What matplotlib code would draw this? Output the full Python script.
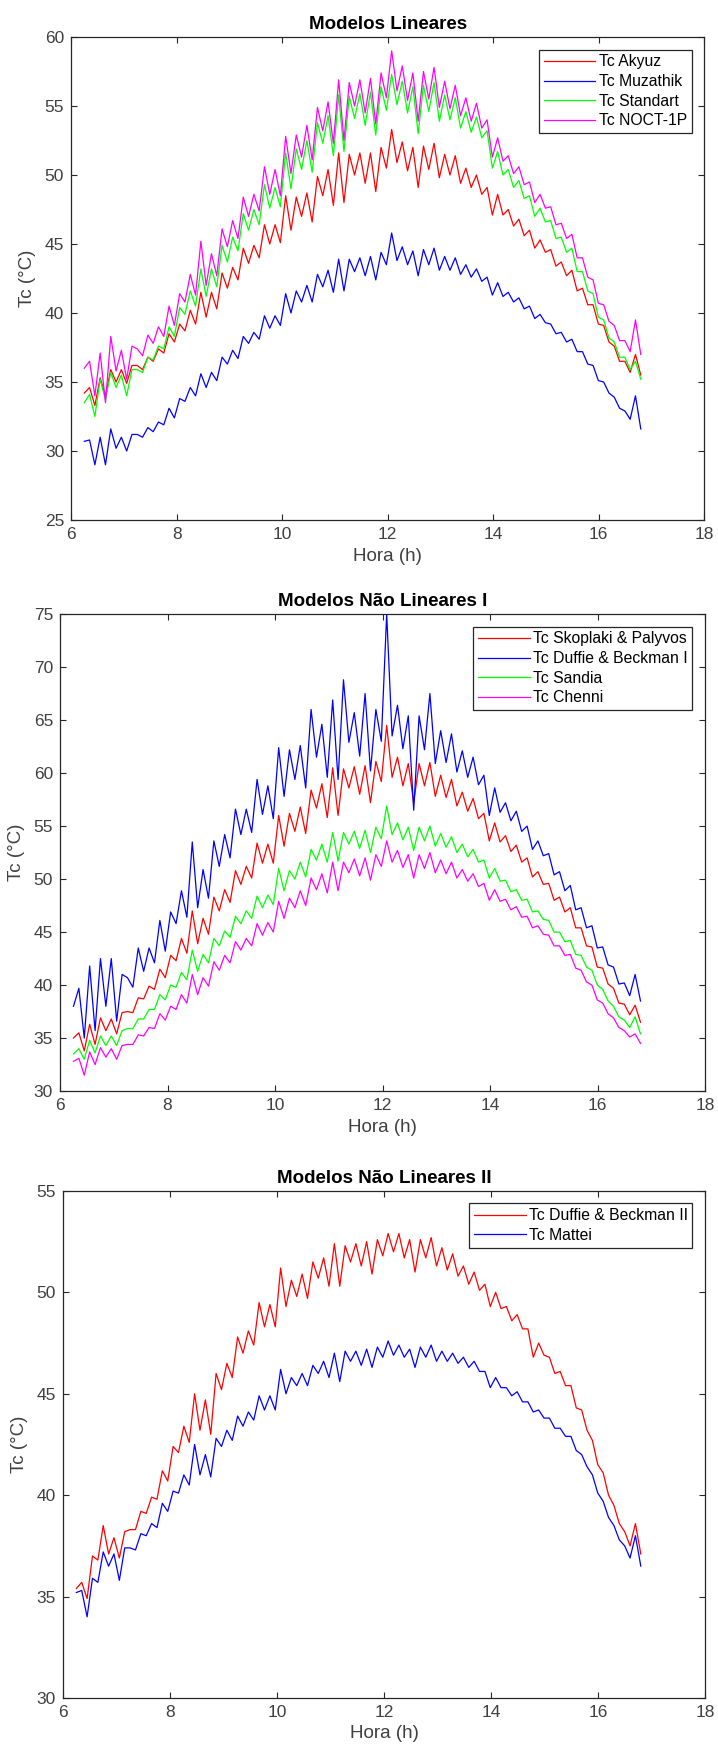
import numpy as np
import matplotlib
matplotlib.use("Agg")
import matplotlib.pyplot as plt

plt.rcParams['font.family'] = ['Liberation Sans', 'DejaVu Sans']

# sampling grid (hours)
hora = np.linspace(6.25, 16.8, 106)

# --- Modelos Lineares ---
akyuz = [34.2, 34.6, 33.3, 35.3, 34.0, 35.9, 35.0, 35.9, 34.9, 36.2,
         36.2, 35.9, 36.8, 36.5, 37.4, 37.1, 38.5, 37.9, 39.2, 38.7,
         40.2, 39.2, 41.5, 39.7, 41.5, 40.3, 42.9, 41.8, 43.3, 42.4,
         44.7, 43.6, 44.9, 44.0, 46.4, 45.0, 46.4, 45.1, 48.5, 46.0,
         48.4, 47.0, 48.7, 46.6, 49.9, 48.5, 50.4, 47.8, 51.6, 48.0,
         51.5, 50.0, 51.6, 49.4, 51.6, 48.8, 52.0, 50.5, 53.3, 50.9,
         52.4, 50.3, 52.0, 49.1, 52.1, 50.4, 52.3, 49.8, 51.5, 50.0,
         51.4, 49.4, 50.5, 49.1, 50.0, 48.6, 49.1, 47.1, 48.6, 47.1,
         47.5, 46.3, 46.8, 45.6, 46.0, 44.7, 45.3, 44.4, 44.6, 43.4,
         43.7, 42.7, 43.1, 41.6, 41.8, 40.6, 40.6, 39.2, 39.1, 37.9,
         37.6, 36.5, 36.5, 35.7, 37.0, 35.5]
muzathik = [30.7, 30.8, 29.0, 31.0, 29.0, 31.6, 30.2, 31.0, 30.0, 31.2,
            31.2, 31.0, 31.7, 31.4, 32.1, 31.9, 33.1, 32.4, 33.8, 33.6,
            34.6, 34.0, 35.6, 34.6, 35.7, 35.1, 36.8, 36.3, 37.3, 36.7,
            38.3, 37.8, 38.6, 38.1, 39.8, 38.9, 39.8, 39.1, 41.4, 40.0,
            41.6, 40.8, 42.0, 40.8, 42.8, 41.9, 43.1, 41.5, 43.9, 41.6,
            43.9, 43.0, 44.0, 42.7, 44.1, 42.4, 44.4, 43.5, 45.8, 43.8,
            44.8, 43.5, 44.5, 42.7, 44.6, 43.5, 44.7, 43.1, 44.1, 43.1,
            44.0, 42.8, 43.5, 42.6, 43.2, 42.3, 42.6, 41.3, 42.2, 41.2,
            41.5, 40.8, 41.1, 40.3, 40.5, 39.6, 39.9, 39.3, 39.2, 38.5,
            38.6, 37.9, 38.1, 37.2, 37.2, 36.3, 36.2, 35.1, 35.0, 34.2,
            33.9, 33.1, 32.9, 32.3, 34.0, 31.6]
standart = [33.5, 34.1, 32.5, 35.2, 33.7, 35.7, 34.6, 35.5, 34.0, 35.9,
            35.9, 35.7, 36.8, 36.6, 37.6, 37.4, 39.0, 38.3, 40.4, 39.9,
            41.6, 40.5, 43.2, 41.2, 43.2, 41.9, 44.9, 43.7, 45.5, 44.5,
            47.2, 46.0, 47.5, 46.4, 49.3, 47.6, 49.1, 47.7, 51.6, 49.0,
            51.9, 50.4, 52.5, 50.2, 53.8, 52.3, 54.3, 51.4, 55.8, 51.7,
            55.7, 54.1, 55.9, 53.6, 56.0, 52.9, 56.4, 54.7, 57.3, 55.1,
            56.8, 54.5, 56.4, 53.0, 56.5, 54.6, 56.7, 53.9, 55.8, 54.0,
            55.6, 53.4, 54.6, 53.1, 54.2, 52.7, 53.2, 50.5, 51.7, 50.0,
            50.4, 49.1, 49.6, 48.3, 48.5, 47.0, 47.6, 46.6, 46.7, 45.4,
            45.5, 44.4, 44.7, 43.0, 43.0, 41.6, 41.4, 39.7, 39.5, 38.2,
            37.9, 36.8, 36.8, 35.9, 36.5, 35.2]
noct_1p = [36.0, 36.5, 34.0, 37.1, 33.5, 38.3, 35.8, 37.3, 35.2, 37.6,
           37.4, 36.9, 38.4, 37.8, 39.0, 38.3, 40.5, 39.1, 41.4, 40.8,
           42.8, 41.3, 45.2, 42.0, 44.3, 42.7, 46.1, 44.8, 46.7, 45.4,
           48.4, 47.0, 48.6, 47.4, 50.6, 48.6, 50.4, 48.5, 52.8, 50.1,
           52.9, 51.3, 53.6, 51.1, 54.9, 53.2, 55.3, 52.3, 56.9, 52.5,
           56.7, 55.0, 56.9, 54.5, 57.0, 53.7, 57.4, 55.6, 59.0, 56.1,
           57.9, 55.4, 57.4, 53.9, 57.5, 55.5, 57.8, 54.9, 56.8, 54.8,
           56.5, 54.3, 55.6, 53.9, 55.2, 53.4, 54.0, 51.3, 52.7, 51.0,
           51.4, 50.1, 50.6, 49.3, 49.5, 48.0, 48.6, 47.6, 47.7, 46.4,
           46.5, 45.4, 45.7, 44.0, 44.0, 42.6, 42.4, 40.7, 40.6, 39.4,
           39.1, 38.0, 38.0, 37.2, 39.5, 37.0]

# --- Modelos Nao Lineares I ---
skoplaki = [35.0, 35.5, 33.8, 36.3, 34.4, 36.9, 35.7, 36.8, 35.4, 37.4,
            37.5, 37.4, 38.8, 38.7, 39.9, 39.6, 41.5, 40.7, 42.8, 42.3,
            44.4, 43.0, 47.0, 43.9, 46.3, 44.8, 48.3, 47.0, 49.0, 47.8,
            50.8, 49.5, 51.2, 50.1, 53.4, 51.5, 53.3, 51.5, 56.0, 53.1,
            56.2, 54.5, 56.8, 54.3, 58.4, 56.7, 59.0, 55.8, 60.5, 56.0,
            60.4, 58.6, 60.6, 58.0, 60.7, 57.2, 61.1, 59.2, 64.5, 59.6,
            61.5, 58.8, 60.9, 57.2, 60.9, 58.8, 61.0, 57.8, 59.8, 57.7,
            59.4, 56.9, 58.2, 56.4, 57.6, 55.7, 56.2, 53.6, 55.3, 53.5,
            54.1, 52.6, 53.2, 51.6, 52.0, 50.2, 50.7, 49.5, 49.6, 48.0,
            48.3, 46.9, 47.3, 45.4, 45.4, 43.7, 43.6, 41.7, 41.6, 40.1,
            39.7, 38.3, 38.2, 37.2, 38.1, 36.5]
duffie_1 = [38.0, 39.7, 35.0, 41.8, 35.7, 42.5, 38.0, 42.5, 36.6, 41.0,
            40.7, 39.8, 43.5, 41.3, 43.5, 42.1, 46.1, 43.2, 46.9, 45.8,
            48.9, 46.4, 53.5, 47.3, 50.9, 48.2, 53.6, 51.2, 54.2, 52.0,
            56.6, 54.2, 56.6, 54.4, 59.4, 56.1, 58.8, 55.7, 62.4, 57.8,
            62.2, 59.4, 62.6, 58.6, 66.0, 61.5, 64.6, 59.6, 66.9, 59.4,
            68.8, 62.9, 65.7, 61.6, 67.5, 60.2, 66.0, 63.0, 75.0, 63.5,
            66.4, 62.3, 65.4, 56.5, 65.4, 62.2, 67.5, 60.9, 64.0, 61.0,
            63.7, 60.1, 62.1, 59.6, 61.5, 58.9, 59.8, 56.0, 58.6, 56.3,
            57.2, 55.5, 56.4, 54.5, 55.0, 52.8, 53.6, 52.2, 52.4, 50.4,
            50.7, 48.9, 49.4, 47.1, 47.3, 45.4, 45.6, 43.5, 43.6, 41.9,
            41.7, 40.1, 40.2, 39.0, 41.0, 38.5]
sandia = [33.5, 34.0, 33.0, 34.8, 33.6, 35.2, 34.3, 35.2, 34.3, 35.7,
          35.9, 35.9, 36.8, 36.8, 37.7, 37.7, 39.1, 38.6, 40.0, 39.8,
          41.2, 40.5, 43.3, 41.3, 42.9, 42.1, 44.4, 43.7, 45.1, 44.5,
          46.5, 45.8, 47.0, 46.3, 48.4, 47.3, 48.5, 47.6, 51.0, 48.9,
          50.8, 50.0, 51.6, 50.2, 52.8, 51.8, 53.3, 51.6, 54.4, 51.7,
          54.4, 53.3, 54.5, 52.9, 54.6, 52.5, 54.9, 53.8, 56.9, 54.2,
          55.3, 53.7, 54.9, 52.7, 54.9, 53.6, 55.0, 53.1, 54.3, 53.0,
          54.0, 52.5, 53.3, 52.1, 52.8, 51.6, 51.8, 50.1, 51.0, 49.8,
          49.9, 48.8, 49.0, 48.0, 48.1, 46.9, 47.0, 46.2, 46.1, 45.0,
          45.0, 44.1, 44.2, 42.9, 42.8, 41.7, 41.4, 40.0, 39.6, 38.5,
          38.0, 37.0, 36.7, 36.0, 37.0, 35.4]
chenni = [32.8, 33.1, 31.5, 33.7, 32.5, 34.1, 33.2, 34.0, 33.0, 34.3,
          34.4, 34.4, 35.3, 35.2, 36.0, 35.9, 37.3, 36.7, 38.0, 37.7,
          39.1, 38.3, 41.0, 39.1, 40.7, 39.9, 42.2, 41.4, 42.8, 42.1,
          44.1, 43.3, 44.4, 43.7, 45.8, 44.7, 45.9, 45.0, 47.9, 46.3,
          48.2, 47.3, 48.9, 47.5, 50.1, 49.0, 50.5, 48.7, 51.6, 48.9,
          51.6, 50.6, 51.9, 50.3, 52.0, 49.9, 52.3, 51.2, 53.6, 51.6,
          52.7, 51.1, 52.3, 50.1, 52.3, 51.0, 52.5, 50.6, 51.8, 50.5,
          51.6, 50.1, 50.9, 49.8, 50.5, 49.3, 49.6, 48.0, 49.0, 47.9,
          48.1, 47.1, 47.4, 46.4, 46.5, 45.4, 45.6, 44.8, 44.7, 43.7,
          43.7, 42.8, 42.9, 41.6, 41.4, 40.3, 40.0, 38.6, 38.3, 37.3,
          36.9, 36.0, 35.7, 35.1, 35.4, 34.5]

# --- Modelos Nao Lineares II ---
duffie_2 = [35.4, 35.7, 34.9, 37.0, 36.8, 38.5, 37.1, 37.9, 36.9, 38.2,
            38.3, 38.3, 39.2, 39.1, 39.9, 39.8, 41.2, 40.7, 42.4, 42.1,
            43.4, 42.6, 45.0, 43.2, 44.7, 43.0, 46.0, 45.2, 46.5, 45.8,
            47.8, 47.0, 48.1, 47.4, 49.5, 48.3, 49.4, 48.3, 51.2, 49.3,
            50.6, 49.8, 50.9, 49.7, 51.5, 50.7, 51.7, 50.3, 52.4, 50.3,
            52.3, 51.5, 52.4, 51.3, 52.5, 50.9, 52.6, 51.8, 52.9, 52.0,
            52.9, 51.7, 52.6, 51.0, 52.6, 51.7, 52.7, 51.3, 52.2, 51.1,
            51.9, 50.8, 51.3, 50.4, 51.0, 50.1, 50.4, 49.3, 50.0, 49.2,
            49.3, 48.6, 48.9, 48.2, 48.2, 46.8, 47.5, 46.9, 46.8, 46.0,
            46.1, 45.4, 45.4, 44.3, 44.2, 43.2, 42.7, 41.5, 41.1, 40.0,
            39.5, 38.6, 38.2, 37.5, 38.6, 37.1]
mattei = [35.2, 35.3, 34.0, 35.9, 35.7, 37.2, 36.5, 37.1, 35.8, 37.4,
          37.4, 37.3, 38.1, 38.0, 38.6, 38.4, 39.6, 39.2, 40.2, 40.1,
          41.0, 40.5, 42.5, 41.0, 42.0, 40.9, 42.8, 42.4, 43.2, 42.7,
          43.9, 43.4, 44.1, 43.7, 44.9, 44.2, 44.9, 44.2, 46.2, 45.0,
          45.8, 45.4, 46.0, 45.4, 46.4, 46.0, 46.6, 45.8, 47.0, 45.6,
          47.1, 46.6, 47.1, 46.4, 47.2, 46.3, 47.3, 46.8, 47.6, 46.9,
          47.4, 46.8, 47.2, 46.3, 47.3, 46.8, 47.4, 46.6, 47.1, 46.6,
          47.0, 46.5, 46.8, 46.3, 46.6, 46.1, 46.1, 45.3, 45.8, 45.3,
          45.3, 44.9, 45.1, 44.6, 44.6, 44.1, 44.2, 43.8, 43.8, 43.3,
          43.3, 42.9, 42.9, 42.2, 42.0, 41.4, 41.0, 40.1, 39.7, 38.9,
          38.5, 37.8, 37.5, 36.9, 38.0, 36.5]

AX_COLOR = '#262626'
TXT_COLOR = '#404040'


def draw_panel(ax, title, series, labels, colors, ylim):
    for y, lab, c in zip(series, labels, colors):
        ax.plot(hora, y, color=c, lw=0.9, label=lab)
    ax.set_xlim(6, 18)
    ax.set_ylim(*ylim)
    ax.set_xticks(range(6, 19, 2))
    ax.set_yticks(range(ylim[0], ylim[1] + 1, 5))
    ax.set_title(title, fontsize=13.5, fontweight='bold', color='black', pad=6)
    ax.set_xlabel('Hora (h)', fontsize=13.5, color=TXT_COLOR, labelpad=4)
    ax.set_ylabel('Tc (°C)', fontsize=13.5, color=TXT_COLOR, labelpad=6)
    ax.tick_params(direction='in', top=True, right=True, length=4, width=0.8,
                   labelsize=12.5, colors=AX_COLOR, labelcolor=TXT_COLOR, pad=5)
    for sp in ax.spines.values():
        sp.set_color(AX_COLOR)
        sp.set_linewidth(0.9)
    leg = ax.legend(loc='upper right', fontsize=11.3, fancybox=False,
                    edgecolor=AX_COLOR, framealpha=1, handlelength=3.3,
                    handletextpad=0.2, labelspacing=0.3, borderpad=0.3,
                    borderaxespad=0.8)
    leg.get_frame().set_linewidth(0.9)


fig = plt.figure(figsize=(7.18, 17.55), dpi=100)

ax1 = fig.add_axes([0.099, 0.7037, 0.8816, 0.2752])
draw_panel(ax1, 'Modelos Lineares', [akyuz, muzathik, standart, noct_1p],
           ['Tc Akyuz', 'Tc Muzathik', 'Tc Standart', 'Tc NOCT-1P'],
           ['#ff0000', '#0000ff', '#00ff00', '#ff00ff'], (25, 60))

ax2 = fig.add_axes([0.0836, 0.3783, 0.8983, 0.2718])
draw_panel(ax2, 'Modelos Não Lineares I', [skoplaki, duffie_1, sandia, chenni],
           ['Tc Skoplaki & Palyvos', 'Tc Duffie & Beckman I', 'Tc Sandia', 'Tc Chenni'],
           ['#ff0000', '#0000ff', '#00ff00', '#ff00ff'], (30, 75))

ax3 = fig.add_axes([0.0877, 0.0325, 0.8942, 0.2889])
draw_panel(ax3, 'Modelos Não Lineares II', [duffie_2, mattei],
           ['Tc Duffie & Beckman II', 'Tc Mattei'],
           ['#ff0000', '#0000ff'], (30, 55))

fig.savefig('out.png', dpi=100)
